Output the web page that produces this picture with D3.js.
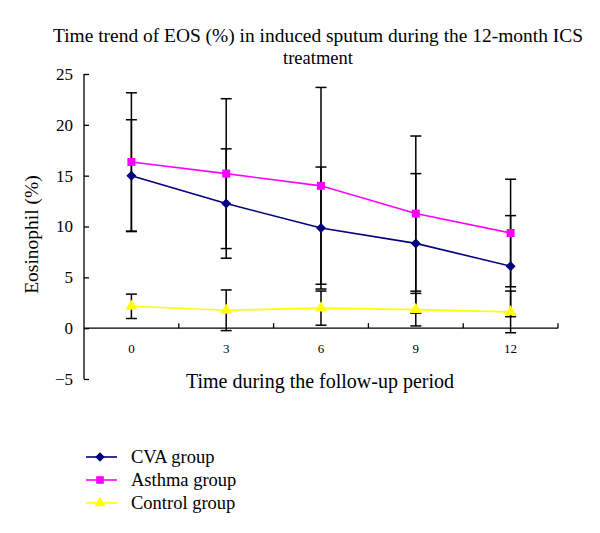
<!DOCTYPE html>
<html><head><meta charset="utf-8">
<script src="https://cdn.jsdelivr.net/npm/d3@7"></script>
<style>body{margin:0;background:#fff}svg{display:block}</style>
</head><body><svg id="c" width="600" height="533"></svg>
<script>
const months = [0, 3, 6, 9, 12];
const yTicks = [-5, 0, 5, 10, 15, 20, 25];
const cvaMean = [15.0, 12.26, 9.85, 8.34, 6.1];
const cvaSD = [5.5, 5.38, 6.0, 6.86, 4.97];
const asthmaMean = [16.35, 15.2, 14.0, 11.27, 9.36];
const asthmaSD = [6.8, 7.37, 9.68, 7.63, 5.29];
const controlMean = [2.15, 1.76, 1.97, 1.82, 1.6];
const controlSD = [1.2, 2.0, 1.68, 1.6, 2.05];
const seriesNames = ["CVA group", "Asthma group", "Control group"];
const seriesColors = ["#000080", "#FF00FF", "#FFFF00"];

const FONT = "'Liberation Serif', 'DejaVu Serif', 'Times New Roman', serif";
const rotSquare = {draw(ctx, size) { const r = Math.sqrt(size) / 2 * Math.SQRT2; ctx.moveTo(0, -r); ctx.lineTo(r, 0); ctx.lineTo(0, r); ctx.lineTo(-r, 0); ctx.closePath(); }};

const series = [
  {name: seriesNames[0], color: seriesColors[0], mean: cvaMean, sd: cvaSD, sym: rotSquare, size: 50},
  {name: seriesNames[1], color: seriesColors[1], mean: asthmaMean, sd: asthmaSD, sym: d3.symbolSquare, size: 64},
  {name: seriesNames[2], color: seriesColors[2], mean: controlMean, sd: controlSD, sym: d3.symbolTriangle, size: 60}
];

const svg = d3.select("#c");
const x = d3.scaleBand().domain(months).range([84, 558]);
const y = d3.scaleLinear().domain([-5, 25]).range([379, 74]);
const cx = m => x(m) + x.bandwidth() / 2;

function txt(sel) { return sel.style("font-family", FONT).attr("fill", "#000"); }

// title
txt(svg.append("text")).attr("x", 318).attr("y", 42).attr("text-anchor", "middle").attr("font-size", 18.5)
  .attr("textLength", 530).attr("lengthAdjust", "spacingAndGlyphs")
  .text("Time trend of EOS (%) in induced sputum during the 12-month ICS");
txt(svg.append("text")).attr("x", 318).attr("y", 64).attr("text-anchor", "middle").attr("font-size", 18.5)
  .text("treatment");

// y axis
const yAxis = d3.axisLeft(y).tickValues(yTicks).tickSize(-5).tickPadding(11)
  .tickFormat(d => d < 0 ? "\u2212" + Math.abs(d) : d);
const ga = svg.append("g").attr("transform", "translate(84,0)").call(yAxis);
ga.select(".domain").attr("stroke", "#000").attr("stroke-width", 1.3).attr("d", `M0,${y(25)}V${y(-5)}`);
ga.selectAll(".tick line").attr("stroke", "#000").attr("stroke-width", 1.3);
txt(ga.selectAll(".tick text")).attr("font-size", 17);

// x axis at y=0
const xAxis = d3.axisBottom(x).tickSize(0).tickPadding(16);
const gx = svg.append("g").attr("transform", `translate(0,${y(0)})`).call(xAxis);
gx.select(".domain").attr("stroke", "#000").attr("stroke-width", 1.3).attr("d", `M84,0H558`);
txt(gx.selectAll(".tick text")).attr("font-size", 13);
const bounds = months.map(m => x(m) + x.bandwidth());
gx.selectAll(".bnd").data(bounds).enter().append("line")
  .attr("x1", d => d).attr("x2", d => d).attr("y1", 0).attr("y2", -5)
  .attr("stroke", "#000").attr("stroke-width", 1.3);

// axis titles
txt(svg.append("text")).attr("x", 320).attr("y", 388).attr("text-anchor", "middle").attr("font-size", 20)
  .text("Time during the follow-up period");
txt(svg.append("text")).attr("transform", `translate(38,${(y(25)+y(-5))/2 + 8}) rotate(-90)`)
  .attr("text-anchor", "middle").attr("font-size", 19.5).text("Eosinophil (%)");

// lines
const line = d3.line().x((d, i) => cx(months[i])).y(d => y(d));
series.forEach(s => {
  svg.append("path").attr("d", line(s.mean)).attr("fill", "none")
    .attr("stroke", s.color).attr("stroke-width", 1.6);
});

// error bars
series.forEach(s => {
  const g = svg.append("g").attr("stroke", "#000").attr("stroke-width", 1.5);
  s.mean.forEach((m, i) => {
    const X = cx(months[i]), top = y(m + s.sd[i]), bot = y(m - s.sd[i]);
    g.append("line").attr("x1", X).attr("x2", X).attr("y1", top).attr("y2", bot);
    g.append("line").attr("x1", X - 5.5).attr("x2", X + 5.5).attr("y1", top).attr("y2", top);
    g.append("line").attr("x1", X - 5.5).attr("x2", X + 5.5).attr("y1", bot).attr("y2", bot);
  });
});

// markers
series.forEach(s => {
  svg.selectAll(null).data(s.mean).enter().append("path")
    .attr("d", d3.symbol().type(s.sym).size(s.size))
    .attr("transform", (d, i) => `translate(${cx(months[i])},${y(d)})`)
    .attr("fill", s.color);
});

// legend
series.forEach((s, i) => {
  const ly = 457 + i * 23;
  svg.append("line").attr("x1", 86).attr("x2", 117).attr("y1", ly).attr("y2", ly)
    .attr("stroke", s.color).attr("stroke-width", 1.6);
  svg.append("path").attr("d", d3.symbol().type(s.sym).size(s.size * 0.9))
    .attr("transform", `translate(100,${ly})`).attr("fill", s.color);
  txt(svg.append("text")).attr("x", 131).attr("y", ly + 6).attr("font-size", 18.5).text(s.name);
});
</script></body></html>
